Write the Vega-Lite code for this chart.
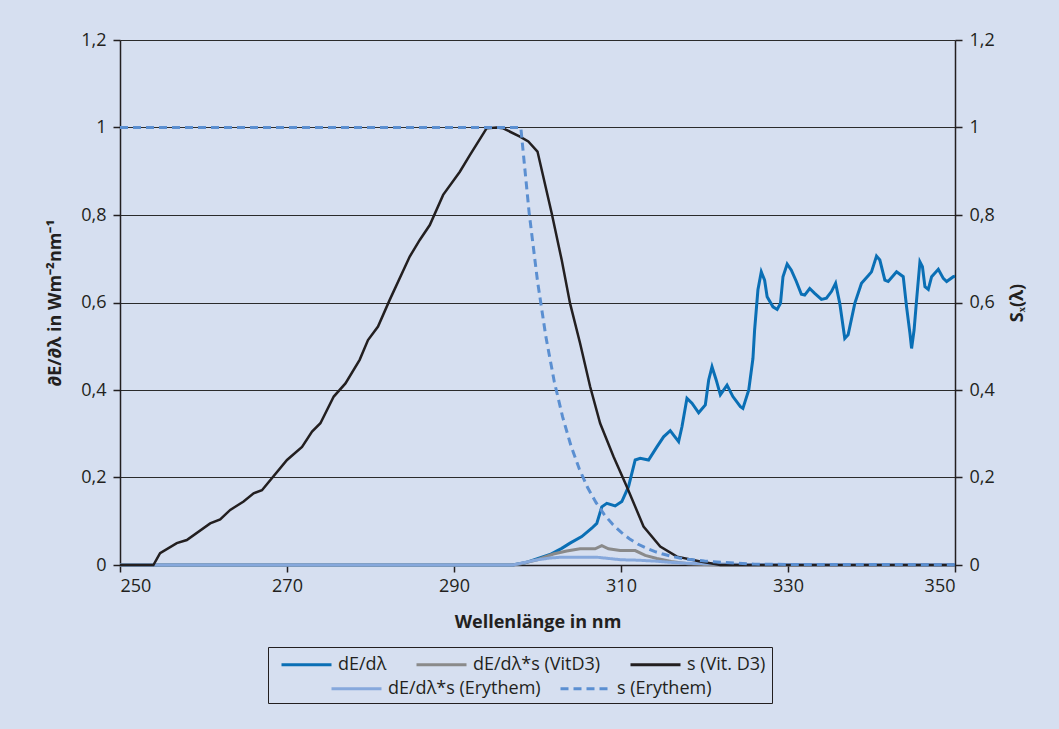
{
 "$schema": "https://vega.github.io/schema/vega-lite/v6.json",
 "autosize": {"type": "none"},
 "width": 835,
 "height": 525,
 "padding": {"left": 120, "top": 40, "right": 104, "bottom": 164},
 "background": "#d6dff0",
 "config": {
  "view": {"stroke": null},
  "font": "Open Sans",
  "axis": {"labelFont": "Open Sans", "labelFontSize": 18, "labelColor": "#231f20", "titleFont": "Open Sans", "titleFontSize": 18, "titleFontWeight": "bold", "titleColor": "#231f20", "domainColor": "#231f20", "domainWidth": 1.5, "tickColor": "#231f20", "tickWidth": 1.5, "tickSize": 7},
  "legend": {"labelFont": "Open Sans", "labelFontSize": 18, "labelColor": "#231f20", "titleFont": "Open Sans"}
 },
 "datasets": {
  "irr": [
   {"wl":250,"v":0,"series":"dE/dλ"},{"wl":297,"v":0,"series":"dE/dλ"},{"wl":298.5,"v":0.005,"series":"dE/dλ"},{"wl":299.9,"v":0.014,"series":"dE/dλ"},{"wl":301.5,"v":0.024,"series":"dE/dλ"},{"wl":302.9,"v":0.038,"series":"dE/dλ"},{"wl":303.9,"v":0.05,"series":"dE/dλ"},{"wl":305.3,"v":0.065,"series":"dE/dλ"},{"wl":306.5,"v":0.084,"series":"dE/dλ"},{"wl":307.1,"v":0.095,"series":"dE/dλ"},{"wl":307.7,"v":0.133,"series":"dE/dλ"},{"wl":308.3,"v":0.141,"series":"dE/dλ"},{"wl":309.3,"v":0.135,"series":"dE/dλ"},{"wl":310.1,"v":0.145,"series":"dE/dλ"},{"wl":310.9,"v":0.179,"series":"dE/dλ"},{"wl":311.7,"v":0.24,"series":"dE/dλ"},{"wl":312.3,"v":0.244,"series":"dE/dλ"},{"wl":313.3,"v":0.24,"series":"dE/dλ"},{"wl":314.3,"v":0.27,"series":"dE/dλ"},{"wl":315.1,"v":0.293,"series":"dE/dλ"},{"wl":315.9,"v":0.307,"series":"dE/dλ"},{"wl":316.3,"v":0.297,"series":"dE/dλ"},{"wl":316.9,"v":0.282,"series":"dE/dλ"},{"wl":317.3,"v":0.316,"series":"dE/dλ"},{"wl":317.9,"v":0.381,"series":"dE/dλ"},{"wl":318.5,"v":0.37,"series":"dE/dλ"},{"wl":319.3,"v":0.348,"series":"dE/dλ"},{"wl":320.1,"v":0.366,"series":"dE/dλ"},{"wl":320.5,"v":0.423,"series":"dE/dλ"},{"wl":320.9,"v":0.453,"series":"dE/dλ"},{"wl":321.4,"v":0.423,"series":"dE/dλ"},{"wl":321.9,"v":0.389,"series":"dE/dλ"},{"wl":322.7,"v":0.411,"series":"dE/dλ"},{"wl":323.4,"v":0.385,"series":"dE/dλ"},{"wl":324.3,"v":0.362,"series":"dE/dλ"},{"wl":324.6,"v":0.358,"series":"dE/dλ"},{"wl":325.3,"v":0.4,"series":"dE/dλ"},{"wl":325.8,"v":0.472,"series":"dE/dλ"},{"wl":326.0,"v":0.537,"series":"dE/dλ"},{"wl":326.4,"v":0.629,"series":"dE/dλ"},{"wl":326.8,"v":0.67,"series":"dE/dλ"},{"wl":327.2,"v":0.651,"series":"dE/dλ"},{"wl":327.5,"v":0.613,"series":"dE/dλ"},{"wl":328.2,"v":0.59,"series":"dE/dλ"},{"wl":328.7,"v":0.584,"series":"dE/dλ"},{"wl":329.1,"v":0.598,"series":"dE/dλ"},{"wl":329.4,"v":0.659,"series":"dE/dλ"},{"wl":329.9,"v":0.688,"series":"dE/dλ"},{"wl":330.4,"v":0.674,"series":"dE/dλ"},{"wl":331.0,"v":0.648,"series":"dE/dλ"},{"wl":331.6,"v":0.619,"series":"dE/dλ"},{"wl":332.0,"v":0.617,"series":"dE/dλ"},{"wl":332.6,"v":0.632,"series":"dE/dλ"},{"wl":333.2,"v":0.621,"series":"dE/dλ"},{"wl":334.0,"v":0.607,"series":"dE/dλ"},{"wl":334.6,"v":0.61,"series":"dE/dλ"},{"wl":335.2,"v":0.625,"series":"dE/dλ"},{"wl":335.7,"v":0.644,"series":"dE/dλ"},{"wl":336.2,"v":0.598,"series":"dE/dλ"},{"wl":336.8,"v":0.518,"series":"dE/dλ"},{"wl":337.2,"v":0.526,"series":"dE/dλ"},{"wl":338.0,"v":0.598,"series":"dE/dλ"},{"wl":338.8,"v":0.644,"series":"dE/dλ"},{"wl":339.6,"v":0.661,"series":"dE/dλ"},{"wl":340.0,"v":0.67,"series":"dE/dλ"},{"wl":340.6,"v":0.706,"series":"dE/dλ"},{"wl":341.0,"v":0.697,"series":"dE/dλ"},{"wl":341.6,"v":0.651,"series":"dE/dλ"},{"wl":342.0,"v":0.648,"series":"dE/dλ"},{"wl":343.0,"v":0.67,"series":"dE/dλ"},{"wl":343.8,"v":0.659,"series":"dE/dλ"},{"wl":344.2,"v":0.59,"series":"dE/dλ"},{"wl":344.6,"v":0.53,"series":"dE/dλ"},{"wl":344.8,"v":0.495,"series":"dE/dλ"},{"wl":345.1,"v":0.537,"series":"dE/dλ"},{"wl":345.4,"v":0.606,"series":"dE/dλ"},{"wl":345.8,"v":0.693,"series":"dE/dλ"},{"wl":346.1,"v":0.682,"series":"dE/dλ"},{"wl":346.4,"v":0.636,"series":"dE/dλ"},{"wl":346.8,"v":0.63,"series":"dE/dλ"},{"wl":347.2,"v":0.659,"series":"dE/dλ"},{"wl":348.0,"v":0.676,"series":"dE/dλ"},{"wl":348.6,"v":0.655,"series":"dE/dλ"},{"wl":349.0,"v":0.648,"series":"dE/dλ"},{"wl":349.8,"v":0.659,"series":"dE/dλ"},{"wl":350,"v":0.66,"series":"dE/dλ"},
   {"wl":250,"v":0,"series":"dE/dλ*s (VitD3)"},{"wl":297,"v":0,"series":"dE/dλ*s (VitD3)"},{"wl":298,"v":0.003,"series":"dE/dλ*s (VitD3)"},{"wl":300,"v":0.012,"series":"dE/dλ*s (VitD3)"},{"wl":301.9,"v":0.025,"series":"dE/dλ*s (VitD3)"},{"wl":303.5,"v":0.032,"series":"dE/dλ*s (VitD3)"},{"wl":305.1,"v":0.037,"series":"dE/dλ*s (VitD3)"},{"wl":306.9,"v":0.037,"series":"dE/dλ*s (VitD3)"},{"wl":307.7,"v":0.044,"series":"dE/dλ*s (VitD3)"},{"wl":308.5,"v":0.037,"series":"dE/dλ*s (VitD3)"},{"wl":309.9,"v":0.033,"series":"dE/dλ*s (VitD3)"},{"wl":311.7,"v":0.033,"series":"dE/dλ*s (VitD3)"},{"wl":312.9,"v":0.022,"series":"dE/dλ*s (VitD3)"},{"wl":314.3,"v":0.015,"series":"dE/dλ*s (VitD3)"},{"wl":316,"v":0.008,"series":"dE/dλ*s (VitD3)"},{"wl":318,"v":0.003,"series":"dE/dλ*s (VitD3)"},{"wl":320,"v":0.001,"series":"dE/dλ*s (VitD3)"},{"wl":322,"v":0,"series":"dE/dλ*s (VitD3)"},{"wl":350,"v":0,"series":"dE/dλ*s (VitD3)"}
  ],
  "ery": [
   {"wl":250,"v":0,"series":"dE/dλ*s (Erythem)"},{"wl":297,"v":0,"series":"dE/dλ*s (Erythem)"},{"wl":298,"v":0.004,"series":"dE/dλ*s (Erythem)"},{"wl":300,"v":0.012,"series":"dE/dλ*s (Erythem)"},{"wl":301.5,"v":0.016,"series":"dE/dλ*s (Erythem)"},{"wl":303,"v":0.018,"series":"dE/dλ*s (Erythem)"},{"wl":307,"v":0.018,"series":"dE/dλ*s (Erythem)"},{"wl":308.5,"v":0.015,"series":"dE/dλ*s (Erythem)"},{"wl":310,"v":0.012,"series":"dE/dλ*s (Erythem)"},{"wl":312,"v":0.011,"series":"dE/dλ*s (Erythem)"},{"wl":314,"v":0.009,"series":"dE/dλ*s (Erythem)"},{"wl":316,"v":0.006,"series":"dE/dλ*s (Erythem)"},{"wl":318,"v":0.004,"series":"dE/dλ*s (Erythem)"},{"wl":320,"v":0.003,"series":"dE/dλ*s (Erythem)"},{"wl":325,"v":0.001,"series":"dE/dλ*s (Erythem)"},{"wl":350,"v":0.0005,"series":"dE/dλ*s (Erythem)"}
  ],
  "vitd": [
   {"wl":250,"v":0,"series":"s (Vit. D3)"},{"wl":254,"v":0,"series":"s (Vit. D3)"},{"wl":254.8,"v":0.027,"series":"s (Vit. D3)"},{"wl":256.8,"v":0.05,"series":"s (Vit. D3)"},{"wl":258,"v":0.057,"series":"s (Vit. D3)"},{"wl":260.8,"v":0.095,"series":"s (Vit. D3)"},{"wl":262,"v":0.104,"series":"s (Vit. D3)"},{"wl":263.2,"v":0.126,"series":"s (Vit. D3)"},{"wl":264.8,"v":0.145,"series":"s (Vit. D3)"},{"wl":266,"v":0.164,"series":"s (Vit. D3)"},{"wl":267,"v":0.171,"series":"s (Vit. D3)"},{"wl":270,"v":0.24,"series":"s (Vit. D3)"},{"wl":271.8,"v":0.27,"series":"s (Vit. D3)"},{"wl":273,"v":0.305,"series":"s (Vit. D3)"},{"wl":274,"v":0.324,"series":"s (Vit. D3)"},{"wl":275.6,"v":0.385,"series":"s (Vit. D3)"},{"wl":277,"v":0.415,"series":"s (Vit. D3)"},{"wl":278.7,"v":0.469,"series":"s (Vit. D3)"},{"wl":279.7,"v":0.514,"series":"s (Vit. D3)"},{"wl":280.9,"v":0.545,"series":"s (Vit. D3)"},{"wl":282.3,"v":0.606,"series":"s (Vit. D3)"},{"wl":284.7,"v":0.705,"series":"s (Vit. D3)"},{"wl":285.9,"v":0.743,"series":"s (Vit. D3)"},{"wl":287.1,"v":0.777,"series":"s (Vit. D3)"},{"wl":288.7,"v":0.846,"series":"s (Vit. D3)"},{"wl":290.7,"v":0.899,"series":"s (Vit. D3)"},{"wl":291.9,"v":0.937,"series":"s (Vit. D3)"},{"wl":293.9,"v":0.998,"series":"s (Vit. D3)"},{"wl":295.1,"v":1.0,"series":"s (Vit. D3)"},{"wl":295.9,"v":0.998,"series":"s (Vit. D3)"},{"wl":297.9,"v":0.979,"series":"s (Vit. D3)"},{"wl":298.9,"v":0.968,"series":"s (Vit. D3)"},{"wl":300.0,"v":0.945,"series":"s (Vit. D3)"},{"wl":301.7,"v":0.804,"series":"s (Vit. D3)"},{"wl":302.9,"v":0.697,"series":"s (Vit. D3)"},{"wl":303.9,"v":0.598,"series":"s (Vit. D3)"},{"wl":305.1,"v":0.507,"series":"s (Vit. D3)"},{"wl":306.3,"v":0.408,"series":"s (Vit. D3)"},{"wl":307.5,"v":0.324,"series":"s (Vit. D3)"},{"wl":309.1,"v":0.248,"series":"s (Vit. D3)"},{"wl":310.7,"v":0.179,"series":"s (Vit. D3)"},{"wl":312.7,"v":0.088,"series":"s (Vit. D3)"},{"wl":314.7,"v":0.042,"series":"s (Vit. D3)"},{"wl":316.7,"v":0.019,"series":"s (Vit. D3)"},{"wl":319.5,"v":0.008,"series":"s (Vit. D3)"},{"wl":321.9,"v":0,"series":"s (Vit. D3)"},{"wl":350,"v":0,"series":"s (Vit. D3)"}
  ],
  "erys": [
   {"wl":250,"v":1,"series":"s (Erythem)"},{"wl":298,"v":1,"series":"s (Erythem)"},{"wl":299,"v":0.805,"series":"s (Erythem)"},{"wl":300,"v":0.649,"series":"s (Erythem)"},{"wl":301,"v":0.522,"series":"s (Erythem)"},{"wl":302,"v":0.42,"series":"s (Erythem)"},{"wl":303,"v":0.339,"series":"s (Erythem)"},{"wl":304,"v":0.273,"series":"s (Erythem)"},{"wl":305,"v":0.22,"series":"s (Erythem)"},{"wl":306,"v":0.177,"series":"s (Erythem)"},{"wl":307,"v":0.143,"series":"s (Erythem)"},{"wl":308,"v":0.115,"series":"s (Erythem)"},{"wl":309,"v":0.093,"series":"s (Erythem)"},{"wl":310,"v":0.075,"series":"s (Erythem)"},{"wl":311,"v":0.06,"series":"s (Erythem)"},{"wl":312,"v":0.048,"series":"s (Erythem)"},{"wl":313,"v":0.039,"series":"s (Erythem)"},{"wl":314,"v":0.031,"series":"s (Erythem)"},{"wl":315,"v":0.025,"series":"s (Erythem)"},{"wl":316,"v":0.02,"series":"s (Erythem)"},{"wl":317,"v":0.016,"series":"s (Erythem)"},{"wl":318,"v":0.013,"series":"s (Erythem)"},{"wl":319,"v":0.011,"series":"s (Erythem)"},{"wl":320,"v":0.009,"series":"s (Erythem)"},{"wl":322,"v":0.006,"series":"s (Erythem)"},{"wl":324,"v":0.004,"series":"s (Erythem)"},{"wl":326,"v":0.002,"series":"s (Erythem)"},{"wl":328,"v":0.0015,"series":"s (Erythem)"},{"wl":330,"v":0.0014,"series":"s (Erythem)"},{"wl":340,"v":0.001,"series":"s (Erythem)"},{"wl":350,"v":0.0007,"series":"s (Erythem)"}
  ]
 },
 "encoding": {
  "x": {"field": "wl", "type": "quantitative", "scale": {"domain": [250, 350], "nice": false},
        "axis": {"values": [250, 270, 290, 310, 330, 350], "title": "Wellenlänge in nm", "grid": false, "labelPadding": 5, "titlePadding": 18}}
 },
 "layer": [
  {
   "encoding": {
    "y": {"field": "v", "type": "quantitative", "scale": {"domain": [0, 1.2], "nice": false},
          "axis": {"orient": "left", "values": [0, 0.2, 0.4, 0.6, 0.8, 1, 1.2], "labelExpr": "replace(toString(datum.value), '.', ',')", "title": "∂E/∂λ in Wm⁻²nm⁻¹", "grid": true, "gridColor": "#2b2b2b", "gridWidth": 1.2, "labelPadding": 7, "titlePadding": 16}}
   },
   "layer": [
    {
     "data": {"name": "irr"},
     "mark": {"type": "line", "strokeWidth": 3},
     "encoding": {
      "color": {"field": "series", "type": "nominal",
                "scale": {"domain": ["dE/dλ", "dE/dλ*s (VitD3)", "s (Vit. D3)"], "range": ["#0a6fb5", "#8a8a8a", "#231f20"]},
                "legend": {"title": " ", "titleOrient": "bottom", "titleFontSize": 16, "titlePadding": 7, "orient": "none", "legendX": 148, "legendY": 607, "direction": "horizontal", "symbolType": "M-0.4,0H4.6", "symbolSize": 400, "symbolStrokeWidth": 3, "labelOffset": 41, "columnPadding": 22, "padding": 6, "strokeColor": "#231f20"}}
     }
    },
    {
     "data": {"name": "ery"},
     "mark": {"type": "line", "strokeWidth": 3},
     "encoding": {
      "stroke": {"field": "series", "type": "nominal",
                 "scale": {"domain": ["dE/dλ*s (Erythem)", "s (Erythem)"], "range": ["#86a8dc", "#5b8fd1"]},
                 "legend": {"title": null, "orient": "none", "legendX": 204, "legendY": 637, "direction": "horizontal", "symbolType": "M-0.4,0H4.6", "symbolSize": 400, "symbolStrokeWidth": 3, "labelOffset": 41, "columnPadding": 12, "padding": 0}},
      "strokeDash": {"field": "series", "type": "nominal",
                 "scale": {"domain": ["dE/dλ*s (Erythem)", "s (Erythem)"], "range": [[1, 0], [8, 5]]}}
     }
    }
   ]
  },
  {
   "encoding": {
    "y": {"field": "v", "type": "quantitative", "scale": {"domain": [0, 1.2], "nice": false},
          "axis": {"orient": "right", "values": [0, 0.2, 0.4, 0.6, 0.8, 1, 1.2], "labelExpr": "replace(toString(datum.value), '.', ',')", "title": "Sₓ(λ)", "titleAngle": 270, "titleBaseline": "top", "grid": false, "labelPadding": 7, "titlePadding": 14}}
   },
   "layer": [
    {
     "data": {"name": "vitd"},
     "mark": {"type": "line", "strokeWidth": 2.5},
     "encoding": {
      "color": {"field": "series", "type": "nominal"}
     }
    },
    {
     "data": {"name": "erys"},
     "mark": {"type": "line", "strokeWidth": 3},
     "encoding": {
      "stroke": {"field": "series", "type": "nominal"},
      "strokeDash": {"field": "series", "type": "nominal"}
     }
    }
   ]
  }
 ],
 "resolve": {"scale": {"y": "independent"}}
}
